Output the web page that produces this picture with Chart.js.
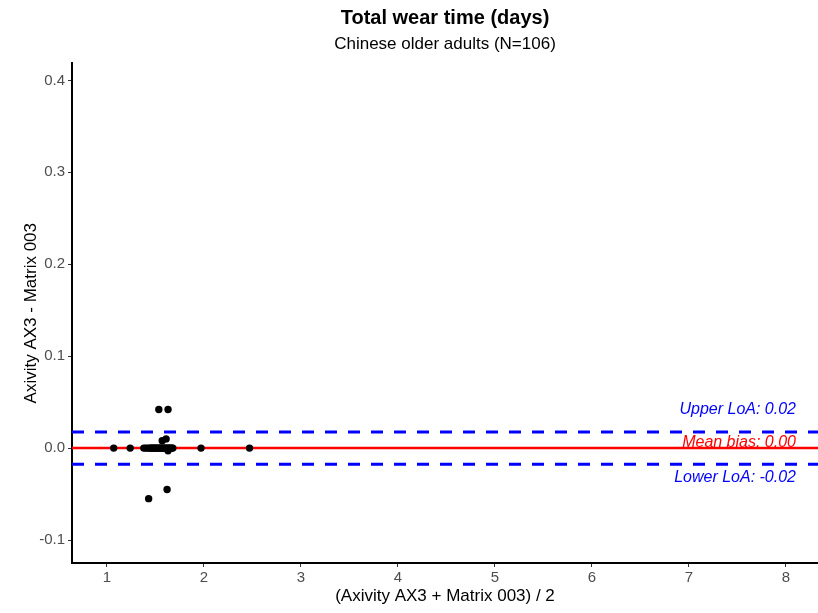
<!DOCTYPE html>
<html>
<head>
<meta charset="utf-8">
<script src="https://cdn.jsdelivr.net/npm/chart.js@4.4.1/dist/chart.umd.min.js"></script>
<style>
html,body{margin:0;padding:0;background:#fff;}
#wrap{width:818px;height:613px;position:relative;}
</style>
</head>
<body>
<div id="wrap"><canvas id="c" width="818" height="613"></canvas></div>
<script>
// Data
const meanValues = [1.07, 1.24, 1.97, 2.47,
  1.38, 1.40, 1.42, 1.44, 1.45, 1.46, 1.47, 1.48, 1.49, 1.50,
  1.51, 1.52, 1.53, 1.54, 1.55, 1.56, 1.57, 1.58, 1.59, 1.60,
  1.61, 1.62, 1.63, 1.64, 1.65, 1.66, 1.67, 1.68,
  1.535, 1.63, 1.57, 1.61, 1.62, 1.43, 1.63];
const diffValues = [0, 0, 0, 0,
  0, 0, 0, 0, 0, 0, 0, 0, 0, 0,
  0, 0, 0, 0, 0, 0, 0, 0, 0, 0,
  0, 0, 0, 0, 0, 0, 0, 0,
  0.042, 0.042, 0.008, 0.010, -0.045, -0.055, -0.003];
const meanBias = 0.0;
const upperLoA = 0.0175;
const lowerLoA = -0.0175;
const xTicks = [1, 2, 3, 4, 5, 6, 7, 8];
const yTicks = [-0.1, 0.0, 0.1, 0.2, 0.3, 0.4];
const xRange = [0.64, 8.33];
const yRange = [-0.125, 0.4185];

const points = meanValues.map((x, i) => ({x: x, y: diffValues[i]}));

const FONT = '"Liberation Sans", Arial, sans-serif';

const labelPlugin = {
  id: 'loaLabels',
  afterDatasetsDraw(chart) {
    const ctx = chart.ctx;
    const ys = chart.scales.y;
    const xr = 796;
    ctx.save();
    ctx.font = 'italic 16px ' + FONT;
    ctx.textAlign = 'right';
    ctx.textBaseline = 'middle';
    ctx.fillStyle = '#0000FF';
    ctx.fillText('Upper LoA: ' + upperLoA.toFixed(2), xr, ys.getPixelForValue(upperLoA) - 22);
    ctx.fillText('Lower LoA: ' + lowerLoA.toFixed(2), xr, ys.getPixelForValue(lowerLoA) + 13);
    ctx.fillStyle = '#FF0000';
    ctx.fillText('Mean bias: ' + meanBias.toFixed(2), xr, ys.getPixelForValue(meanBias) - 6);
    ctx.restore();
  }
};

const tickFont = {family: FONT, size: 15};

new Chart(document.getElementById('c'), {
  type: 'scatter',
  data: {
    datasets: [
      {
        data: [{x: xRange[0], y: upperLoA}, {x: xRange[1], y: upperLoA}],
        showLine: true, borderColor: '#0000FF', borderWidth: 3, borderDash: [12, 11],
        pointRadius: 0, order: 3
      },
      {
        data: [{x: xRange[0], y: lowerLoA}, {x: xRange[1], y: lowerLoA}],
        showLine: true, borderColor: '#0000FF', borderWidth: 3, borderDash: [12, 11],
        pointRadius: 0, order: 3
      },
      {
        data: [{x: xRange[0], y: meanBias}, {x: xRange[1], y: meanBias}],
        showLine: true, borderColor: '#FF0000', borderWidth: 2.5,
        pointRadius: 0, order: 2
      },
      {
        data: points,
        backgroundColor: '#000', borderColor: '#000', pointRadius: 3.7, borderWidth: 0,
        order: 1
      }
    ]
  },
  options: {
    responsive: false,
    animation: false,
    devicePixelRatio: 1,
    layout: {autoPadding: false, padding: {left: 0, right: 0, top: 0, bottom: 0}},
    plugins: {
      legend: {display: false},
      tooltip: {enabled: false},
      title: {
        display: true, text: 'Total wear time (days)', fullSize: false,
        color: '#000', font: {family: FONT, size: 20, weight: 'bold'},
        padding: {top: 6, bottom: 0}
      },
      subtitle: {
        display: true, text: 'Chinese older adults (N=106)', fullSize: false,
        color: '#000', font: {family: FONT, size: 17},
        padding: {top: 4, bottom: 9}
      }
    },
    scales: {
      x: {
        type: 'linear', min: xRange[0], max: xRange[1],
        afterBuildTicks: (s) => { s.ticks = xTicks.map(v => ({value: v})); },
        afterFit: (s) => { s.height = 50; s.paddingLeft = 0; s.paddingRight = 0; },
        ticks: {color: '#4d4d4d', font: tickFont, padding: 2, callback: (v) => String(v), maxRotation: 0},
        grid: {display: true, drawOnChartArea: false, drawTicks: true, tickLength: 4, color: '#333'},
        border: {display: true, color: '#000', width: 2},
        title: {display: true, text: '(Axivity AX3 + Matrix 003) / 2', color: '#000',
          font: {family: FONT, size: 17}, padding: {top: 0, bottom: 6}}
      },
      y: {
        type: 'linear', min: yRange[0], max: yRange[1],
        afterBuildTicks: (s) => { s.ticks = yTicks.map(v => ({value: v})); },
        afterFit: (s) => { s.width = 72; s.paddingTop = 0; s.paddingBottom = 0; },
        ticks: {color: '#4d4d4d', font: tickFont, padding: 3, callback: (v) => v.toFixed(1)},
        grid: {display: true, drawOnChartArea: false, drawTicks: true, tickLength: 4, color: '#333'},
        border: {display: true, color: '#000', width: 2},
        title: {display: true, text: 'Axivity AX3 - Matrix 003', color: '#000',
          font: {family: FONT, size: 17}, padding: {top: 21, bottom: 0}}
      }
    }
  },
  plugins: [labelPlugin]
});
</script>
</body>
</html>
